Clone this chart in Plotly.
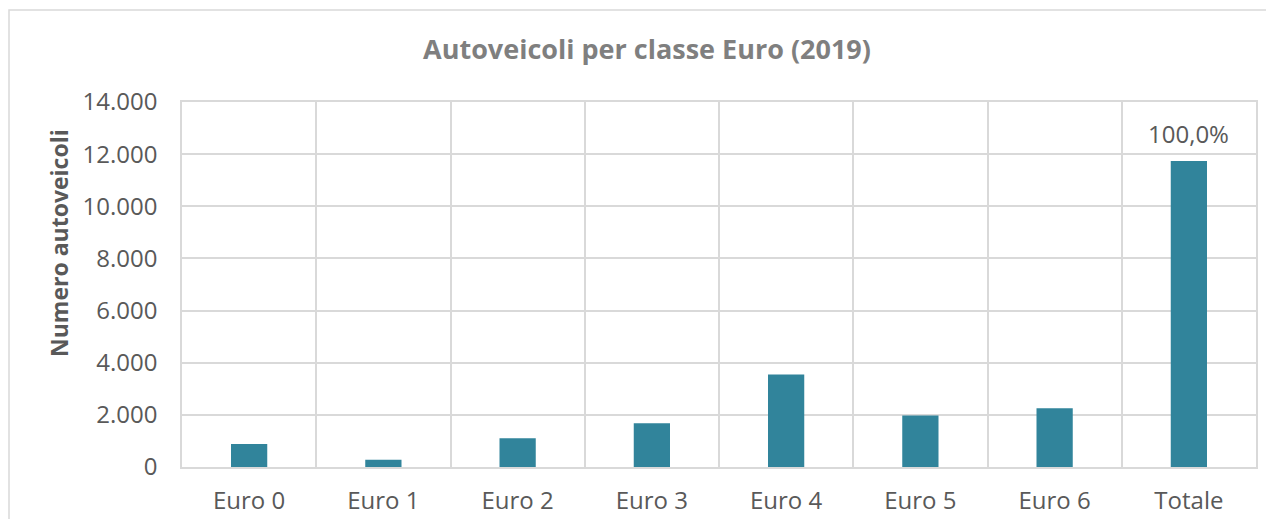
import plotly.graph_objects as go

categories = ["Euro 0", "Euro 1", "Euro 2", "Euro 3", "Euro 4", "Euro 5", "Euro 6", "Totale"]
values = [880, 280, 1100, 1680, 3550, 1980, 2250, 11740]
data_labels = ["", "", "", "", "", "", "", "100,0%"]
y_ticks = [0, 2000, 4000, 6000, 8000, 10000, 12000, 14000]

FONT = "Open Sans"
GRID = "#D9D9D9"
TXT = "#595959"
TICK_SIZE = 24

fig = go.Figure(go.Bar(
    x=categories, y=values,
    marker=dict(color="#31849B", line=dict(width=0)),
    width=0.27,
))

OFF = 8  # page body offset
W, H = 1258, 511
# target plot area in window px: x 182..1256, y 102..467
L, R = 182 - OFF, (OFF + W) - 1256
T, B = 102 - OFF, (OFF + H) - 467
pw, ph = W - L - R, H - T - B


def px_x(x):
    return (x - OFF - L) / pw


def px_y(y):
    return (OFF + H - B - y) / ph


annotations = [dict(text=lab, x=cat, y=val, xref="x", yref="y", yanchor="bottom", yshift=9,
                    showarrow=False, font=dict(family=FONT, size=TICK_SIZE, color=TXT))
               for cat, val, lab in zip(categories, values, data_labels) if lab]
annotations.append(dict(text="<b>Numero autoveicoli</b>", textangle=-90, xref="paper", yref="paper",
                        x=px_x(59), y=px_y(243), xanchor="center", yanchor="middle",
                        showarrow=False, font=dict(family=FONT, size=23, color=TXT)))

fig.update_layout(
    width=W, height=H,
    margin=dict(l=L, r=R, t=T, b=B, autoexpand=False),
    paper_bgcolor="white", plot_bgcolor="white",
    separators=",.",
    showlegend=False,
    font=dict(family=FONT, color=TXT),
    title=dict(text="<b>Autoveicoli per classe Euro (2019)</b>", x=(647 - OFF) / W, xanchor="center",
               y=1 - (50 - OFF) / H, yanchor="middle",
               font=dict(family=FONT, size=27, color="#7F7F7F")),
    xaxis=dict(type="category", tickson="boundaries", showgrid=True, gridcolor=GRID, gridwidth=1.5,
               showline=True, linecolor=GRID, linewidth=1.5, mirror=True, ticks="", automargin=False,
               tickfont=dict(family=FONT, size=TICK_SIZE, color=TXT), ticklabelstandoff=11),
    yaxis=dict(range=[0, 14000], tickvals=y_ticks, tickformat=",d", showgrid=True, gridcolor=GRID,
               gridwidth=1.5, showline=True, linecolor=GRID, linewidth=1.5, mirror=True, ticks="",
               automargin=False, zeroline=False, tickfont=dict(family=FONT, size=TICK_SIZE, color=TXT),
               ticklabelstandoff=18),
    annotations=annotations,
    shapes=[dict(type="rect", xref="paper", yref="paper",
                 x0=px_x(9), x1=px_x(1272), y0=px_y(540), y1=px_y(10),
                 line=dict(color=GRID, width=1.5), fillcolor="rgba(0,0,0,0)", layer="below")],
)

fig.write_html("out.html")
